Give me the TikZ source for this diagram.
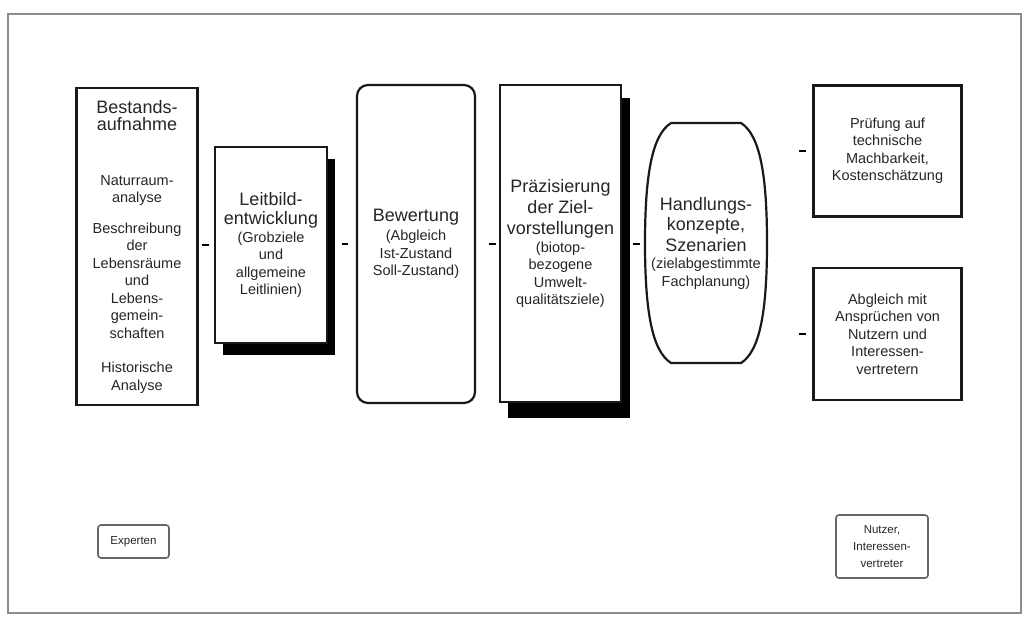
\documentclass[tikz,border=0pt]{standalone}
\usepackage{fontspec}
\setmainfont{Liberation Sans}
\newcommand\rgfont{\fontsize{14.5}{17.5}\selectfont}
\newcommand\hdfont{\fontsize{18}{17.5}\selectfont}
\newcommand\smfont{\fontsize{11.5}{17}\selectfont}
\begin{document}
\begin{tikzpicture}[x=1pt,y=-1pt,
  frame/.style={draw=black!45, line width=1.6pt},
  stepbox/.style={draw=black!90, line width=2.2pt, fill=white, align=center,
    inner sep=0pt, font=\rgfont, text=black!85},
  shadowfill/.style={fill=black},
  roundbox/.style={stepbox, rounded corners=11pt},
  plainnode/.style={align=center, inner sep=0pt, font=\rgfont, text=black!85},
  smallbox/.style={draw=black!60, line width=1.6pt, fill=white, rounded corners=3pt,
    align=center, inner sep=0pt, font=\smfont, text=black!85},
  tick/.style={draw=black, line width=2pt},
]
\useasboundingbox (0,0) rectangle (1025,623);

% outer frame
\draw[frame] (8,14) rectangle (1021,613);

% drop shadows of the two shaded boxes
\fill[shadowfill] (223,159) rectangle (335,355);
\fill[shadowfill] (508,98) rectangle (630,418);

% main process boxes
\node[stepbox, minimum width=121pt, minimum height=317pt] (ba) at (137,246.5)
  {\hdfont Bestands-\\\hdfont aufnahme\\[37pt]
   Naturraum-\\analyse\\[13pt]
   Beschreibung\\der\\Lebensräume\\und\\Lebens-\\gemein-\\schaften\\[17pt]
   Historische\\Analyse};

\node[stepbox, minimum width=112pt, minimum height=196pt] (lb) at (271,245)
  {\hdfont Leitbild-\\[2pt]\hdfont entwicklung\\
   (Grobziele\\und\\allgemeine\\Leitlinien)};

\node[roundbox, minimum width=118pt, minimum height=318pt] (bw) at (416,244)
  {\hdfont Bewertung\\[2pt]
   (Abgleich\\Ist-Zustand\\Soll-Zustand)};

\node[stepbox, minimum width=121pt, minimum height=317pt] (pz) at (560.5,243.5)
  {\hdfont Präzisierung\\[3.5pt]\hdfont der Ziel-\\[3.5pt]\hdfont vorstellungen\\
   (biotop-\\bezogene\\Umwelt-\\qualitätsziele)};

% action concepts: barrel-shaped outline around a plain text node
\node[plainnode, minimum width=122pt, minimum height=240pt] (hk) at (706,243)
  {\hdfont Handlungs-\\[3pt]\hdfont konzepte,\\[3pt]\hdfont Szenarien\\
   (zielabgestimmte\\Fachplanung)};
\draw[black!90, line width=2.2pt]
  (671,123) -- (741,123)
  .. controls (760,135) and (767,175) .. (767,243)
  .. controls (767,311) and (760,351) .. (741,363)
  -- (671,363)
  .. controls (652,351) and (645,311) .. (645,243)
  .. controls (645,175) and (652,135) .. (671,123) -- cycle;

\node[stepbox, minimum width=148pt, minimum height=131pt] (pr) at (887.5,151)
  {Prüfung auf\\technische\\Machbarkeit,\\Kostenschätzung};

\node[stepbox, minimum width=148pt, minimum height=132pt] (ab) at (887.5,334)
  {Abgleich mit\\Ansprüchen von\\Nutzern und\\Interessen-\\vertretern};

% actors
\node[smallbox, minimum width=71pt, minimum height=33pt] (ex) at (133.5,541.5)
  {Experten};
\node[smallbox, minimum width=92pt, minimum height=63pt] (nu) at (882,546.5)
  {Nutzer,\\Interessen-\\vertreter};

% short connector marks in front of each following step
\draw[tick] ([xshift=-12pt]lb.west) -- ([xshift=-5pt]lb.west);
\draw[tick] ([xshift=-14pt]bw.west) -- ([xshift=-8pt]bw.west);
\draw[tick] ([xshift=-10pt]pz.west) -- ([xshift=-3pt]pz.west);
\coordinate (hkw) at (645,244);
\draw[tick] ([xshift=-12pt]hkw) -- ([xshift=-5pt]hkw);
\draw[tick] ([xshift=-13pt]pr.west) -- ([xshift=-6pt]pr.west);
\draw[tick] ([xshift=-13pt]ab.west) -- ([xshift=-6pt]ab.west);
\end{tikzpicture}
\end{document}
